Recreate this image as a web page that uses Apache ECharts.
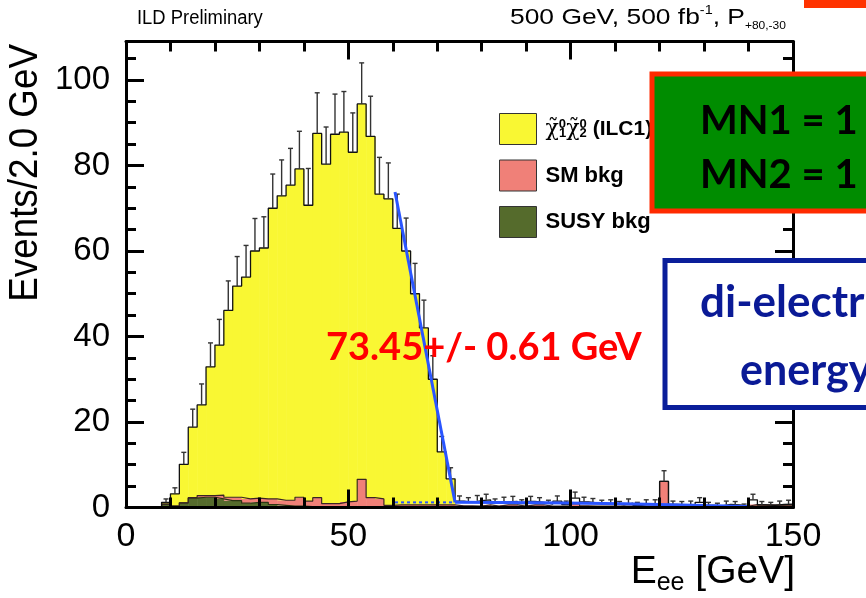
<!DOCTYPE html>
<html><head><meta charset="utf-8">
<script src="https://cdn.jsdelivr.net/npm/echarts@6/dist/echarts.min.js"></script>
<style>html,body{margin:0;padding:0;background:#fff}#c{width:866px;height:598px}</style>
</head><body><div id="c"></div>
<script>
// ---- data (2 GeV bins from 0 to 150) ----
const binEdges = [0,2,4,6,8,10,12,14,16,18,20,22,24,26,28,30,32,34,36,38,40,42,44,46,48,50,52,54,56,58,60,62,64,66,68,70,72,74,76,78,80,82,84,86,88,90,92,94,96,98,100,102,104,106,108,110,112,114,116,118,120,122,124,126,128,130,132,134,136,138,140,142,144,146,148,150];
const dataVals = [0,0,0,0,1.2,3.2,10.1,18.8,24.0,32.9,38.0,46.1,51.8,53.9,60.0,60.7,70.0,72.9,75.4,79.2,70.7,87.5,80.3,87.3,87.8,83.1,94.4,86.8,73.3,72.2,65.3,60.0,50.0,42.0,30.0,13.0,6.7,
  1.5,1.2,1.6,1.8,1.0,1.3,1.4,0.9,1.4,1.2,0.8,1.5,0.7,2.2,1.3,1.1,0.8,0.9,0.6,1.0,0.5,0.9,0.9,6.1,0.7,0.6,0.7,1.2,0.5,0.4,0.7,0.6,0.3,1.8,0.6,0.5,0.7,0.8];
const dataErr = [0,0,0,0,0.8,1.4,2.8,4.2,4.9,5.6,6.0,6.9,6.9,7.4,7.6,7.3,8.0,8.4,8.6,8.8,8.6,9.5,8.7,9.4,9.5,9.2,9.6,9.4,8.6,8.4,8.0,7.7,7.1,6.5,5.5,3.6,2.6,
  1.2,1.1,1.2,1.3,1.0,1.1,1.2,0.9,1.2,1.1,0.9,1.2,0.8,1.4,1.1,1.0,0.9,0.9,0.8,1.0,0.7,0.9,0.9,2.5,0.8,0.8,0.8,1.1,0.7,0.6,0.8,0.8,0.5,1.3,0.8,0.7,0.8,0.9];
const susyBkg = [0,0,0,0,0.8,0.3,1.1,2.2,2.4,2.4,2.0,1.6,1.6,1.0,1.2,1.2,0.7,0.5,0.3,0.3,0.2,0.2,0,0,0,0,0,0,0,0,0,0,0,0,0,0,0,
  0.1,0.1,0.1,0.1,0.1,0.1,0.1,0.1,0.1,0.1,0.1,0.1,0.1,0.1,0.1,0.1,0.1,0.1,0.1,0.1,0.1,0.1,0.1,0,0.1,0.1,0.1,0.1,0.1,0.1,0.1,0.1,0.1,0.3,0.3,0.3,0.3,0.3];
const smBkg = [0,0,0,0,0,0,0,0.1,0.4,0.4,0.9,0.8,0.8,1.0,1.0,0.8,1.3,1.2,1.4,2.1,1.3,2.1,0.9,0.9,1.3,1.5,6.6,2.3,2.0,0.5,0.6,0.6,0.6,0.6,0.6,0.6,0.6,
  0.3,0.3,0.2,0.5,0.2,0.5,0.5,0.2,0.5,0.5,0.2,0.2,0.2,0.8,0.3,0.2,0.2,0.2,0.2,0.2,0.2,0.2,0.2,6.1,0.2,0.2,0.2,0.2,0.2,0.2,0.2,0.2,0.2,0.4,0.3,0.3,0.3,0.3];
const signal = [0,0,0,0,0.4,2.9,9.0,16.5,21.2,30.1,35.1,43.7,49.4,51.9,57.8,58.7,68.0,71.2,73.7,76.8,69.2,85.2,79.4,86.4,86.5,81.6,87.8,84.5,71.3,71.7,64.7,59.4,49.4,41.4,29.4,12.4,6.1,
  0,0,0,0,0,0,0,0,0,0,0,0,0,0,0,0,0,0,0,0,0,0,0,0,0,0,0,0,0,0,0,0,0,0,0,0,0,0];
// edge fit (GeV, events)
const fitEdgeE = [60.5, 74];
const fitEdgeY = [73.8, 1.2];
const fitBkgInE = [60.5, 74];
const fitBkgInY = [1.2, 1.2];
const fitTailE = [74, 94, 94, 112, 112, 130, 130, 140];
const fitTailY = [1.2, 1.1, 0.85, 0.85, 0.45, 0.45, 0.25, 0.25];
const xTickVals = [0, 50, 100, 150];
const yTickVals = [0, 20, 40, 60, 80, 100];

const NAME_SIG = 'chi';
const ROOTF = "'Liberation Sans',Arial,sans-serif";
const PPTF = "Lato,'Open Sans',sans-serif";
const C_SIG = '#f9f733', C_SM = '#f08078', C_SUSY = '#556b2c';

// stacked layers built from the arrays
const layerSusy = susyBkg.map((v,i)=>[binEdges[i], binEdges[i+1], 0, v]);
const layerSm = smBkg.map((v,i)=>[binEdges[i], binEdges[i+1], susyBkg[i], susyBkg[i]+v]);
const layerSig = signal.map((v,i)=>[binEdges[i], binEdges[i+1], susyBkg[i]+smBkg[i], susyBkg[i]+smBkg[i]+v]);
function stepData(vals){
  const d = vals.map((v,i)=>[binEdges[i], v]);
  d.push([binEdges[vals.length], vals[vals.length-1]]);
  return d;
}
const cumSusy = susyBkg.slice();
const cumBkg = susyBkg.map((v,i)=>v+smBkg[i]);
const errData = dataVals.map((v,i)=>[ (binEdges[i]+binEdges[i+1])/2, v, v+dataErr[i], dataErr[i] ]);

function rectItem(params, api){
  const lo = api.value(0), hi = api.value(1), b = api.value(2), t = api.value(3);
  if (t - b <= 0) return null;
  const p0 = api.coord([lo, b]), p1 = api.coord([hi, t]);
  return {type:'rect', shape:{x:p0[0], y:p1[1], width:p1[0]-p0[0]+0.5, height:p0[1]-p1[1]},
    style:{fill:api.visual('color')}};
}

const chart = echarts.init(document.getElementById('c'), null, {renderer:'canvas'});
const axisCommon = {
  axisLine:{onZero:false, lineStyle:{color:'#000', width:3}},
  axisTick:{inside:true, length:18, lineStyle:{color:'#000', width:3}},
  splitLine:{show:false}, minorSplitLine:{show:false}
};
function mt(n){ return {minorTick:{show:true, splitNumber:n, length:10, lineStyle:{color:'#000', width:3}}}; }
const option = {
  animation:false,
  backgroundColor:'#fff',
  grid:{left:126, right:73, top:41.5, bottom:90.5, containLabel:false},
  xAxis:[
    Object.assign({type:'value', min:0, max:150, interval:50, position:'bottom', z:20,
      axisLabel:{fontFamily:ROOTF, fontSize:34, color:'#000', margin:12,
        formatter:v=> xTickVals.includes(v)? String(v):''}}, axisCommon, mt(5)),
    Object.assign({type:'value', min:0, max:150, interval:50, position:'top', z:20, axisLabel:{show:false}}, axisCommon, mt(5))
  ],
  yAxis:[
    Object.assign({type:'value', min:0, max:109, interval:20, position:'left', z:20,
      axisLabel:{fontFamily:ROOTF, fontSize:33, color:'#000', margin:16,
        formatter:v=> yTickVals.includes(v)? String(v):''}}, axisCommon, mt(4)),
    Object.assign({type:'value', min:0, max:109, interval:20, position:'right', z:20, axisLabel:{show:false}}, axisCommon, mt(4))
  ],
  legend:{
    orient:'vertical', left:499, top:113, padding:0, itemWidth:37, itemHeight:31, itemGap:14.5, icon:'rect',
    itemStyle:{borderColor:'#333', borderWidth:1},
    data:[NAME_SIG,'SM bkg','SUSY bkg'],
    textStyle:{fontFamily:ROOTF, fontWeight:'bold', fontSize:22, color:'#000', padding:[0,0,0,4],
      rich:{
        c:{fontFamily:"'DejaVu Serif',serif", fontSize:22, fontWeight:'normal', color:'#000'},
        sp:{fontFamily:ROOTF, fontSize:13, fontWeight:'bold', verticalAlign:'top', color:'#000', width:0.1},
        sb:{fontFamily:ROOTF, fontSize:13, fontWeight:'bold', verticalAlign:'bottom', color:'#000'},
        t:{fontFamily:ROOTF, fontWeight:'bold', fontSize:21, color:'#000'}
      }},
    formatter:function(name){
      if(name===NAME_SIG) return '{c|χ̃}{sp|0}{sb|1}{c|χ̃}{sp|0}{sb|2}{t| (ILC1)}';
      return name;
    }
  },
  series:[
    {name:'SUSY bkg', type:'custom', data:layerSusy, renderItem:rectItem, itemStyle:{color:C_SUSY}, z:2},
    {name:'SM bkg', type:'custom', data:layerSm, renderItem:rectItem, itemStyle:{color:C_SM}, z:2},
    {name:NAME_SIG, type:'custom', data:layerSig, renderItem:rectItem, itemStyle:{color:C_SIG}, z:2},
    {name:'susyLine', type:'line', step:'end', symbol:'none', data:stepData(cumSusy),
      lineStyle:{color:'#2c3312', width:1.2}, z:3},
    {name:'bkgLine', type:'line', step:'end', symbol:'none', data:stepData(cumBkg),
      lineStyle:{color:'#3a2424', width:1.2}, z:3},
    {name:'data', type:'line', step:'end', symbol:'none', data:stepData(dataVals),
      lineStyle:{color:'#111', width:1.3}, z:5},
    {name:'err', type:'custom', data:errData, z:6,
      renderItem:function(params, api){
        if(api.value(3)<=0) return null;
        const p0 = api.coord([api.value(0), api.value(1)]);
        const p1 = api.coord([api.value(0), api.value(2)]);
        return {type:'group', children:[
          {type:'line', shape:{x1:p0[0], y1:p0[1], x2:p1[0], y2:p1[1]}, style:{stroke:'#333', lineWidth:1.4}},
          {type:'line', shape:{x1:p1[0]-2.5, y1:p1[1], x2:p1[0]+2.5, y2:p1[1]}, style:{stroke:'#333', lineWidth:1.4}}
        ]};
      }},
    {name:'fitEdge', type:'line', symbol:'none', data:fitEdgeE.map((e,i)=>[e, fitEdgeY[i]]),
      lineStyle:{color:'#2a55ff', width:3}, z:7},
    {name:'fitBkgIn', type:'line', symbol:'none', data:fitBkgInE.map((e,i)=>[e, fitBkgInY[i]]),
      lineStyle:{color:'#2a55ff', width:2, type:[3,3]}, z:7},
    {name:'fitTail', type:'line', symbol:'none', data:fitTailE.map((e,i)=>[e, fitTailY[i]]),
      lineStyle:{color:'#2a55ff', width:3}, z:7}
  ],
  graphic:[
    {type:'text', x:137, y:18, z:50, scaleX:0.92, style:{text:'ILD Preliminary', font:"20px "+ROOTF, fill:'#000', verticalAlign:'middle'}},
    {type:'text', x:510, y:18, z:50, scaleX:1.2, style:{text:'500 GeV, 500 fb{sp|-1}, P{sb|+80,-30}', font:"22px "+ROOTF, fill:'#000', verticalAlign:'middle',
      rich:{sp:{fontFamily:ROOTF, fontSize:12, verticalAlign:'top'}, sb:{fontFamily:ROOTF, fontSize:10, verticalAlign:'bottom', padding:[17,0,0,0]}}}},
    {type:'text', x:26, y:44, rotation:Math.PI/2, scaleX:0.92, z:50, style:{text:'Events/2.0 GeV', font:"40px "+ROOTF, fill:'#000', align:'right', verticalAlign:'middle'}},
    {type:'text', x:795, y:572, z:50, style:{text:'E{sb|ee} [GeV]', font:"39px "+ROOTF, fill:'#000', align:'right', verticalAlign:'middle',
      rich:{sb:{fontFamily:ROOTF, fontSize:25, verticalAlign:'bottom', padding:[22,0,0,0]}}}},
    {type:'text', x:326, y:348, z:50, style:{text:'73.45+/- 0.61 GeV', font:"bold 38px "+PPTF, fill:'#ff0000', verticalAlign:'middle'}},
    {type:'rect', z:60, shape:{x:652, y:74, width:220, height:137}, style:{fill:'#008c00', stroke:'#ff2a00', lineWidth:5}},
    {type:'text', x:700, y:121, z:61, style:{text:'MN1 = 1', font:"bold 40px "+PPTF, fill:'#000', verticalAlign:'middle'}},
    {type:'text', x:700, y:175, z:61, style:{text:'MN2 = 1', font:"bold 40px "+PPTF, fill:'#000', verticalAlign:'middle'}},
    {type:'rect', z:60, shape:{x:665, y:260.5, width:210, height:147}, style:{fill:'#fff', stroke:'#0a1e9a', lineWidth:5}},
    {type:'text', x:700, y:303, z:61, style:{text:'di-electr', font:"bold 44px "+PPTF, fill:'#0a1a96', verticalAlign:'middle'}},
    {type:'text', x:740, y:371, z:61, style:{text:'energy', font:"bold 43px "+PPTF, fill:'#0a1a96', verticalAlign:'middle'}},
    {type:'rect', z:60, shape:{x:804, y:0, width:62, height:8}, style:{fill:'#ff3300'}}
  ]
};
chart.setOption(option);
</script></body></html>
